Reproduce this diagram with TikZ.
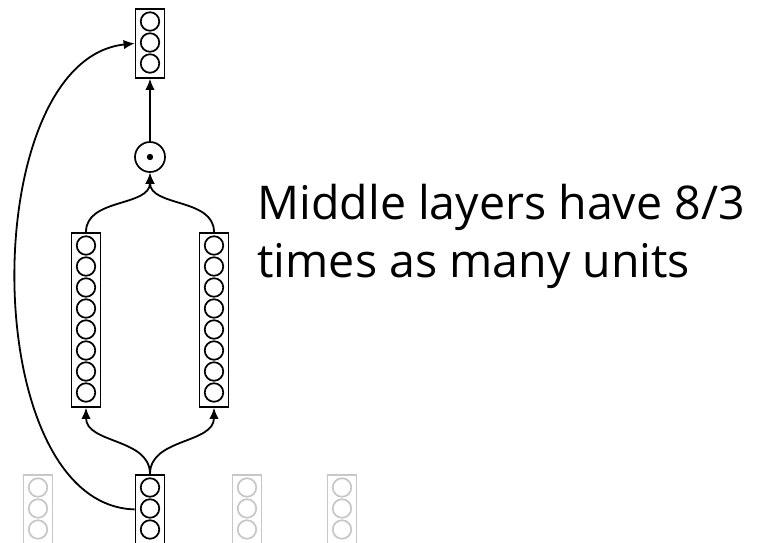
\documentclass[tikz,border=0pt]{standalone}
\usepackage{fontspec}
\setmainfont{Open Sans}
\usetikzlibrary{arrows.meta}

% A layer: a framed column of units.
% #1 name, #2 x of centre, #3 y of top edge, #4 number of units, #5 colour
\newcommand{\unitlayer}[5]{%
  \node[layer, draw=#5, minimum height=#4*21pt+6pt, anchor=north] (#1) at (#2,#3) {};
  \foreach \k in {1,...,#4}
    \node[unit, draw=#5] at (#2,{#3+13.5+(\k-1)*21}) {};
}

\begin{document}
\begin{tikzpicture}[x=1pt,y=-1pt,
  unit/.style={circle,line width=1.7pt,minimum size=18.5pt,inner sep=0pt},
  layer/.style={rectangle,line width=1.8pt,minimum width=29pt,inner sep=0pt},
  conn/.style={line width=1.8pt,-{Latex[length=11pt,width=9.5pt]}},
  label/.style={anchor=base west,font=\fontsize{46.5}{57}\selectfont}]
\useasboundingbox (0,0) rectangle (761,542);

% inactive neighbouring positions
\unitlayer{f1}{38}{474}{3}{black!22}
\unitlayer{f2}{247}{474}{3}{black!22}
\unitlayer{f3}{342}{474}{3}{black!22}

% active block
\unitlayer{bot}{150}{474}{3}{black}
\unitlayer{lft}{86}{232}{8}{black}
\unitlayer{rgt}{214}{232}{8}{black}
\unitlayer{top}{150}{8}{3}{black}

% elementwise product
\node[circle,draw,line width=1.7pt,minimum size=30pt,inner sep=0pt] (prod) at (150,157) {};
\fill (prod.center) circle[radius=3.2pt];

% connections
\draw[conn] (bot.north) to[out=90,in=-90] (lft.south);
\draw[conn] (bot.north) to[out=90,in=-90] (rgt.south);
\draw[conn] (lft.north) to[out=90,in=-90] (prod.south);
\draw[conn] (rgt.north) to[out=90,in=-90] (prod.south);
\draw[conn] (prod) -- (top);
\draw[conn] (bot.west) .. controls (-24,505) and (-24,60) .. (top.west);

\node[label] (t1) at (254,219) {Middle layers have 8/3};
\node[label] (t2) at (254,277) {times as many units};
\end{tikzpicture}
\end{document}
